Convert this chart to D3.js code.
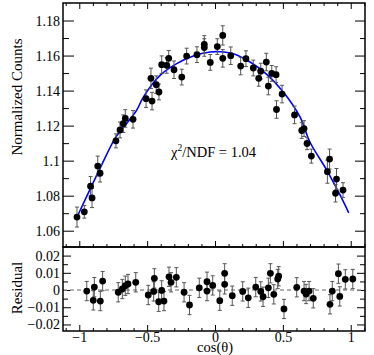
<!DOCTYPE html>
<html>
<head>
<meta charset="utf-8">
<script src="https://d3js.org/d3.v7.min.js"></script>
<style>
  body { margin:0; background:#fff; }
  svg text { font-family: "Liberation Serif", "Times New Roman", serif; }
</style>
</head>
<body>
<script>
// top panel: normalized counts vs cos(theta)
const cosX = [-1.017,-0.963,-0.917,-0.906,-0.864,-0.847,-0.730,-0.700,-0.676,-0.661,
  -0.604,-0.508,-0.472,-0.464,-0.433,-0.413,-0.393,-0.356,-0.341,-0.302,
  -0.245,-0.209,-0.133,-0.079,-0.079,-0.035,0.017,0.057,0.057,0.116,
  0.189,0.228,0.282,0.322,0.337,0.378,0.393,0.418,0.450,0.494,
  0.453,0.586,0.639,0.656,0.678,0.710,0.828,0.844,0.895,0.888,0.943];
const counts = [1.0678,1.0708,1.0854,1.0787,1.0969,1.0928,1.1113,1.1175,1.1211,1.1241,
  1.1236,1.1354,1.1470,1.1340,1.1434,1.1392,1.1548,1.1544,1.1584,1.1519,
  1.1477,1.1597,1.1605,1.1664,1.1646,1.1561,1.1651,1.1715,1.1584,1.1599,
  1.1540,1.1582,1.1529,1.1470,1.1511,1.1563,1.1426,1.1498,1.1491,1.1380,
  1.1292,1.1261,1.1172,1.1183,1.1098,1.1026,1.0937,1.1009,1.0895,1.0814,1.0832];
const countErr = [0.0057,0.0036,0.0055,0.0055,0.0057,0.0050,0.0040,0.0045,0.0050,0.0050,
  0.0050,0.0050,0.0058,0.0050,0.0050,0.0045,0.0050,0.0045,0.0045,0.0050,
  0.0045,0.0045,0.0045,0.0050,0.0050,0.0045,0.0045,0.0055,0.0050,0.0050,
  0.0050,0.0045,0.0045,0.0045,0.0045,0.0050,0.0050,0.0045,0.0045,0.0050,
  0.0050,0.0050,0.0045,0.0045,0.0035,0.0040,0.0066,0.0057,0.0060,0.0050,0.0042];

// fit curve
const fitX = [-1.007,-0.995,-0.847,-0.730,-0.651,-0.577,-0.528,-0.405,-0.282,-0.160,
  -0.037,0.037,0.135,0.258,0.381,0.503,0.626,0.700,0.823,0.921,0.985];
const fitY = [1.0694,1.0714,1.0956,1.1136,1.1212,1.1288,1.1363,1.1487,1.1554,1.1597,
  1.1620,1.1622,1.1610,1.1563,1.1493,1.1392,1.1250,1.1105,1.0946,1.0804,1.0702];

// bottom panel: residuals
const resX = [-0.945,-0.897,-0.889,-0.845,-0.828,-0.713,-0.683,-0.661,-0.641,-0.584,
  -0.492,-0.452,-0.447,-0.415,-0.393,-0.376,-0.339,-0.324,-0.285,-0.228,
  -0.188,-0.116,-0.059,-0.059,-0.017,0.035,0.071,0.071,0.127,0.204,
  0.245,0.300,0.337,0.354,0.393,0.408,0.433,0.462,0.469,0.508,
  0.602,0.656,0.671,0.693,0.724,0.847,0.864,0.909,0.919,0.960,1.015];
const resY = [-0.0006,-0.0060,0.0017,-0.0064,0.0052,-0.0013,0.0006,0.0025,0.0035,0.0045,
  -0.0029,-0.0008,0.0068,-0.0068,-0.0002,-0.0064,0.0077,0.0045,0.0074,-0.0013,
  -0.0087,0.0013,0.0048,-0.0006,0.0027,-0.0062,0.0097,0.0033,-0.0033,-0.0008,
  -0.0045,0.0017,-0.0008,-0.0039,0.0013,0.0097,-0.0025,0.0064,0.0080,-0.0110,
  0.0016,-0.0006,-0.0023,-0.0006,-0.0048,-0.0083,-0.0006,0.0095,-0.0037,0.0062,0.0064];
const resErr = 0.0056;

const xTicks = [-1, -0.5, 0, 0.5, 1];
const xTickLabels = ["\u22121", "\u22120.5", "0", "0.5", "1"];
const topTicks = [1.06, 1.08, 1.1, 1.12, 1.14, 1.16, 1.18];
const topTickLabels = ["1.06", "1.08", "1.1", "1.12", "1.14", "1.16", "1.18"];
const resTicks = [-0.02, -0.01, 0, 0.01, 0.02];
const resTickLabels = ["\u22120.02", "\u22120.01", "0", "0.01", "0.02"];
const chiText = "1.04";

const width = 374, height = 355;
const fLeft = 63, fRight = 365, fTop = 3, fMid = 247, fBottom = 331;

const svg = d3.select("body").append("svg")
  .attr("width", width)
  .attr("height", height);

const x = d3.scaleLinear().domain([-1.12, 1.105]).range([fLeft, fRight]);
const yTop = d3.scaleLinear().domain([1.0507, 1.19]).range([fMid, fTop]);
const yRes = d3.scaleLinear().domain([-0.0238, 0.025]).range([fBottom, fMid]);

const xMinor = d3.range(-11, 12).map(d => d / 10).filter(d => !xTicks.includes(d));
const topMinor = d3.range(106, 119).map(d => d / 100).filter(d => !topTicks.some(t => Math.abs(t - d) < 1e-6));
const resMinor = [-0.015, -0.005, 0.005, 0.015];

function tickAxis(axis, y0, x0) {
  const g = svg.append("g")
    .attr("transform", `translate(${x0 || 0},${y0 || 0})`)
    .call(axis);
  g.select(".domain").remove();
  g.selectAll("line").attr("stroke", "#000");
  g.attr("font-family", "Liberation Serif").attr("font-size", 14);
  g.selectAll("text").attr("fill", "#000");
  return g;
}

// x ticks on the three horizontal edges
[[fTop, d3.axisTop], [fMid, d3.axisBottom], [fBottom, d3.axisBottom]].forEach(([yy, ax]) => {
  tickAxis(ax(x).tickValues(xTicks).tickSize(-6).tickPadding(1).tickFormat(yy === fBottom ? (d, i) => xTickLabels[i] : ""), yy);
  tickAxis(ax(x).tickValues(xMinor).tickSize(-3).tickFormat(""), yy);
});

// y ticks, top panel
tickAxis(d3.axisLeft(yTop).tickValues(topTicks).tickSize(-11).tickPadding(3).tickFormat((d, i) => topTickLabels[i]), 0, fLeft);
tickAxis(d3.axisLeft(yTop).tickValues(topMinor).tickSize(-6).tickFormat(""), 0, fLeft);
tickAxis(d3.axisRight(yTop).tickValues(topTicks).tickSize(-10).tickFormat(""), 0, fRight);
tickAxis(d3.axisRight(yTop).tickValues(topMinor).tickSize(-5).tickFormat(""), 0, fRight);

// y ticks, residual panel
tickAxis(d3.axisLeft(yRes).tickValues(resTicks).tickSize(-8).tickPadding(3).tickFormat((d, i) => resTickLabels[i]), 0, fLeft);
tickAxis(d3.axisLeft(yRes).tickValues(resMinor).tickSize(-5).tickFormat(""), 0, fLeft);
tickAxis(d3.axisRight(yRes).tickValues(resTicks).tickSize(-8).tickFormat(""), 0, fRight);
tickAxis(d3.axisRight(yRes).tickValues(resMinor).tickSize(-5).tickFormat(""), 0, fRight);

// zero line in residual panel
svg.append("line")
  .attr("x1", fLeft).attr("x2", fRight)
  .attr("y1", yRes(0)).attr("y2", yRes(0))
  .attr("stroke", "#999")
  .attr("stroke-width", 1.5)
  .attr("stroke-dasharray", "4,3");

// fit curve
const fitData = fitX.map((d, i) => [d, fitY[i]]);
svg.append("path")
  .datum(fitData)
  .attr("fill", "none")
  .attr("stroke", "#0000ff")
  .attr("stroke-width", 1.6)
  .attr("d", d3.line().x(d => x(d[0])).y(d => yTop(d[1])).curve(d3.curveCatmullRom));

function drawPoints(xs, ys, errs, y) {
  const data = xs.map((d, i) => ({ x: d, y: ys[i], e: Array.isArray(errs) ? errs[i] : errs }));
  const g = svg.append("g");
  const bars = g.selectAll("g.bar").data(data).enter().append("g")
    .attr("stroke", "#555").attr("stroke-width", 1);
  bars.append("line")
    .attr("x1", d => x(d.x)).attr("x2", d => x(d.x))
    .attr("y1", d => y(d.y - d.e)).attr("y2", d => y(d.y + d.e));
  bars.append("line")
    .attr("x1", d => x(d.x) - 2).attr("x2", d => x(d.x) + 2)
    .attr("y1", d => y(d.y - d.e)).attr("y2", d => y(d.y - d.e));
  bars.append("line")
    .attr("x1", d => x(d.x) - 2).attr("x2", d => x(d.x) + 2)
    .attr("y1", d => y(d.y + d.e)).attr("y2", d => y(d.y + d.e));
  g.selectAll("circle").data(data).enter().append("circle")
    .attr("cx", d => x(d.x))
    .attr("cy", d => y(d.y))
    .attr("r", 3.4)
    .attr("fill", "#000");
}

drawPoints(cosX, counts, countErr, yTop);
drawPoints(resX, resY, resErr, yRes);

// frames
svg.append("rect")
  .attr("x", fLeft).attr("y", fTop)
  .attr("width", fRight - fLeft).attr("height", fMid - fTop)
  .attr("fill", "none").attr("stroke", "#000").attr("stroke-width", 1.5);
svg.append("rect")
  .attr("x", fLeft).attr("y", fMid)
  .attr("width", fRight - fLeft).attr("height", fBottom - fMid)
  .attr("fill", "none").attr("stroke", "#000").attr("stroke-width", 1.5);

// labels
const chi = svg.append("text")
  .attr("x", 171).attr("y", 157)
  .attr("font-size", 14.5);
chi.append("tspan").text("\u03c7");
chi.append("tspan").attr("font-size", 9.5).attr("dy", -6).text("2");
chi.append("tspan").attr("dy", 6).text("/NDF = " + chiText);

svg.append("text")
  .attr("transform", "translate(22,97) rotate(-90)")
  .attr("text-anchor", "middle")
  .attr("font-size", 15)
  .text("Normalized Counts");

svg.append("text")
  .attr("transform", "translate(22,288) rotate(-90)")
  .attr("text-anchor", "middle")
  .attr("font-size", 15)
  .text("Residual");

svg.append("text")
  .attr("x", x(0)).attr("y", 352)
  .attr("text-anchor", "middle")
  .attr("font-size", 14.5)
  .text("cos(\u03b8)");
</script>
</body>
</html>
